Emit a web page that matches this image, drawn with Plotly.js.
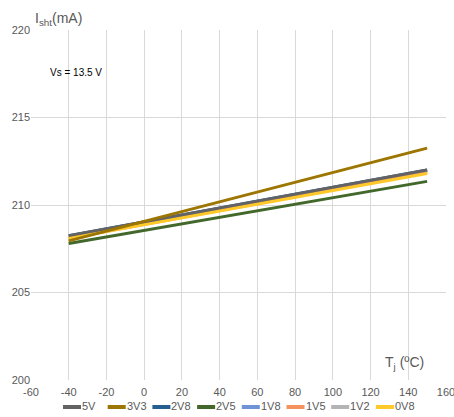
<!DOCTYPE html>
<html><head><meta charset="utf-8">
<script src="https://cdn.plot.ly/plotly-3.0.1.min.js"></script>
<style>html,body{margin:0;padding:0;background:#fff}#chart{width:454px;height:417px}</style>
</head><body><div id="chart"></div>
<script>
const temps = [-40, 150];
const seriesNames = ['5V', '3V3', '2V8', '2V5', '1V8', '1V5', '1V2', '0V8'];
const v5V  = [208.25, 212.0];
const v3V3 = [207.95, 213.25];
const v2V8 = [208.25, 212.0];
const v2V5 = [207.8, 211.35];
const v1V8 = [208.2, 211.95];
const v1V5 = [208.1, 211.85];
const v1V2 = [208.2, 211.95];
const v0V8 = [208.1, 211.8];
const seriesValues = [v5V, v3V3, v2V8, v2V5, v1V8, v1V5, v1V2, v0V8];
const xTickVals = [-60, -40, -20, 0, 20, 40, 60, 80, 100, 120, 140, 160];
const xTickText = ['-60', '-40', '-20', '0', '20', '40', '60', '80', '100', '120', '140', '160'];
const colors = ['#636363', '#9c7600', '#255e91', '#43682b', '#6f93d6', '#f4935c', '#b4b4b4', '#ffc92a'];
// drawing order (bottom to top)
const drawOrder = [2, 4, 6, 5, 7, 3, 0, 1];

const traces = drawOrder.map(i => ({
  x: temps, y: seriesValues[i], name: seriesNames[i], type: 'scatter', mode: 'lines',
  line: {color: colors[i], width: 3}, showlegend: false
}));

// plot area in pixels: left 31, right 446, top 30, bottom 380
const PL = 31, PW = 415, PB = 380, PH = 350;
const px2x = p => (p - PL) / PW;
const py2y = p => (PB - p) / PH;

const legendShapes = [], legendTexts = [];
seriesNames.forEach((n, i) => {
  const x0 = 63 + i * 44.7;
  legendShapes.push({type: 'line', xref: 'paper', yref: 'paper', x0: px2x(x0), x1: px2x(x0 + 18),
    y0: py2y(407), y1: py2y(407), line: {color: colors[i], width: 4}});
  legendTexts.push({text: n, xref: 'paper', yref: 'paper', x: px2x(x0 + 18), y: py2y(406),
    xanchor: 'left', yanchor: 'middle', showarrow: false, xshift: -1,
    font: {size: 11, color: '#595959'}});
});

const layout = {
  width: 454, height: 417,
  margin: {l: 31, r: 8, t: 30, b: 37},
  paper_bgcolor: '#fff', plot_bgcolor: '#fff',
  font: {family: 'Liberation Sans, Arial, sans-serif', color: '#595959', size: 11},
  xaxis: {range: [-60, 160], tickvals: xTickVals, ticktext: xTickText, showgrid: true, gridcolor: '#d9d9d9', gridwidth: 1,
          zeroline: false, showline: false, ticks: '', tickfont: {size: 11, color: '#595959'}, automargin: false,
          ticklabeloverflow: 'allow', ticklabelstandoff: 4},
  yaxis: {range: [200, 220], dtick: 5, tick0: 200, showgrid: true, gridcolor: '#d9d9d9', gridwidth: 1,
          zeroline: false, showline: false, ticks: '', tickfont: {size: 11, color: '#595959'}, automargin: false},
  showlegend: false,
  shapes: legendShapes,
  annotations: [
    {text: 'I<sub>sht</sub>(mA)', xref: 'paper', yref: 'paper', x: 0.005, y: 1.0, xanchor: 'left', yanchor: 'bottom',
     showarrow: false, font: {size: 14, color: '#595959'}},
    {text: 'T<sub>j</sub> (ºC)', xref: 'paper', yref: 'paper', x: 0.848, y: 0.05, xanchor: 'left', yanchor: 'middle',
     showarrow: false, font: {size: 14, color: '#595959'}},
    {text: 'Vs = 13.5 V', xref: 'paper', yref: 'paper', x: 0.04, y: 0.88, xanchor: 'left', yanchor: 'middle',
     showarrow: false, font: {size: 10, color: '#000'}}
  ].concat(legendTexts)
};
Plotly.newPlot('chart', traces, layout, {displayModeBar: false, staticPlot: true});
</script></body></html>
